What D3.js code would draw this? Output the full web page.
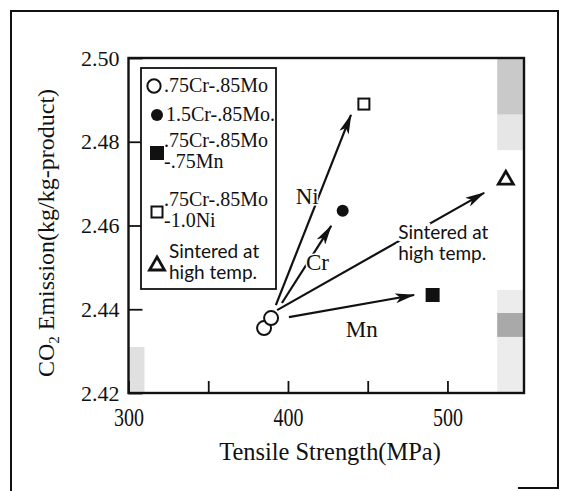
<!DOCTYPE html>
<html><head><meta charset="utf-8">
<script src="https://cdn.jsdelivr.net/npm/d3@7"></script>
<style>body{margin:0;background:#fff}svg{display:block}</style>
</head><body>
<script>
// ---- data ----
const xTicks = [300, 350, 400, 450, 500];
const xTickLabels = ["300", "", "400", "", "500"];
const yTicks = [2.42, 2.44, 2.46, 2.48, 2.50];
const yTickLabels = ["2.42", "2.44", "2.46", "2.48", "2.50"];

const seriesNames = [".75Cr-.85Mo", "1.5Cr-.85Mo.", ".75Cr-.85Mo|-.75Mn", ".75Cr-.85Mo|-1.0Ni", "Sintered at|high temp."];
const seriesShapes = ["openCircle", "filledCircle", "filledSquare", "openSquare", "triangle"];
// points: series index, tensile strength (MPa), CO2 emission (kg/kg-product)
const pointSeries = [0, 0, 1, 2, 3, 4];
const pointX = [385.0, 389.4, 434.3, 490.7, 447.6, 536.6];
const pointY = [2.4355, 2.4379, 2.4635, 2.4434, 2.4890, 2.4713];

// arrows from the base alloy to each modification
const arrowNames = ["Ni", "Cr", "Sintered", "Mn"];
const arrowX0 = [392.4, 396.2, 393.2, 400.6];
const arrowY0 = [2.4410, 2.4415, 2.4398, 2.4381];
const arrowX1 = [439.5, 427.1, 523.0, 479.1];
const arrowY1 = [2.4864, 2.4599, 2.4678, 2.4434];

// annotation labels
const noteText = ["Ni", "Cr", "Mn", "Sintered at", "high temp."];
const noteX = [404.8, 411.3, 436.2, 469.1, 469.1];
const noteY = [2.4652, 2.4494, 2.4334, 2.4568, 2.4518];

const xTitle = "Tensile Strength(MPa)";

// ---- layout ----
const W = 571, H = 491;
const svg = d3.select("body").append("svg").attr("width", W).attr("height", H);
const serif = "'Liberation Serif','Times New Roman',serif";
const sans = "Lato,'Open Sans',sans-serif";

const x = d3.scaleLinear().domain([300, 548]).range([128.5, 524]);
const y = d3.scaleLinear().domain([2.42, 2.50]).range([393, 58]);

// squeeze a text horizontally (the scanned figure uses a narrow face)
function squeeze(sel, ratio) {
  sel.each(function () {
    const len = this.getComputedTextLength();
    if (len > 0) d3.select(this).attr("textLength", len * ratio).attr("lengthAdjust", "spacingAndGlyphs");
  });
}

// outer frame (partially visible)
svg.append("path").attr("d", "M11,491 L11,11 L558,11 L558,488 L518,488")
  .attr("stroke", "#111").attr("stroke-width", 2).attr("fill", "none");

// halftone scan shading
const shade = svg.append("g");
const sh = [
  [531.2, 548, 2.4446, 2.42, "#ececec"],
  [531.2, 548, 2.4865, 2.478, "#e6e6e6"],
  [531.2, 548, 2.50, 2.4865, "#c9c9c9"],
  [531.2, 548, 2.4391, 2.4334, "#a9a9a9"],
  [300, 310, 2.431, 2.42, "#e0e0e0"]
];
sh.forEach(r => shade.append("rect").attr("x", x(r[0])).attr("y", y(r[2]))
  .attr("width", x(r[1]) - x(r[0])).attr("height", y(r[3]) - y(r[2])).attr("fill", r[4]));

// axes with inward ticks
const xAxis = d3.axisBottom(x).tickValues(xTicks).tickSize(-12).tickPadding(15)
  .tickFormat((d, i) => xTickLabels[i]);
const gx = svg.append("g").attr("transform", `translate(0,${y(2.42)})`).call(xAxis);
const yAxis = d3.axisLeft(y).tickValues(yTicks).tickSize(-14).tickPadding(9)
  .tickFormat((d, i) => yTickLabels[i]);
const gy = svg.append("g").attr("transform", `translate(${x(300)},0)`).call(yAxis);
[gx, gy].forEach(g => {
  g.attr("font-family", serif).attr("font-size", null);
  g.select(".domain").remove();
  g.selectAll("line").attr("stroke", "#111").attr("stroke-width", 1.8);
  g.selectAll("text").attr("fill", "#111").attr("font-family", serif).style("font-family", serif);
});
gy.selectAll("text").style("font-size", "22px");
gx.selectAll("text").style("font-size", "25px").call(squeeze, 0.8);

// plot frame
svg.append("rect").attr("x", x(300)).attr("y", y(2.50))
  .attr("width", x(548) - x(300)).attr("height", y(2.42) - y(2.50))
  .attr("fill", "none").attr("stroke", "#111").attr("stroke-width", 2.4);

// axis titles
svg.append("text").attr("x", 330).attr("y", 460).attr("text-anchor", "middle")
  .style("font-family", serif).style("font-size", "26px").attr("fill", "#111").text(xTitle)
  .call(squeeze, 0.94);
const yt = svg.append("text").attr("transform", "translate(54,233) rotate(-90)")
  .attr("text-anchor", "middle").style("font-family", serif).style("font-size", "24px").attr("fill", "#111");
yt.append("tspan").text("CO");
yt.append("tspan").attr("dy", 5).style("font-size", "15px").text("2");
yt.append("tspan").attr("dy", -5).text(" Emission(kg/kg-product)");

// arrow marker
svg.append("defs").append("marker").attr("id", "ah").attr("viewBox", "0 0 20 10").attr("refX", 19).attr("refY", 5)
  .attr("markerWidth", 20).attr("markerHeight", 10).attr("markerUnits", "userSpaceOnUse")
  .attr("orient", "auto")
  .append("path").attr("d", "M0,0 L20,5 L0,10 L5,5 Z").attr("fill", "#111");

// arrows
svg.append("g").selectAll("line").data(arrowNames).join("line")
  .attr("x1", (d, i) => x(arrowX0[i])).attr("y1", (d, i) => y(arrowY0[i]))
  .attr("x2", (d, i) => x(arrowX1[i])).attr("y2", (d, i) => y(arrowY1[i]))
  .attr("stroke", "#111").attr("stroke-width", 2.2).attr("marker-end", "url(#ah)");

// annotations (white halo hides the arrow under the text)
svg.append("g").selectAll("text").data(noteText).join("text")
  .attr("x", (d, i) => x(noteX[i])).attr("y", (d, i) => y(noteY[i]))
  .style("font-family", (d, i) => i >= 3 ? sans : serif)
  .style("font-size", (d, i) => i >= 3 ? "19px" : "23px")
  .attr("fill", "#111").attr("stroke", "#fff").attr("stroke-width", (d, i) => i >= 3 ? 6 : 3)
  .attr("paint-order", "stroke").text(d => d);

// marker drawing
function drawShape(g, shape, cx, cy, s) {
  if (shape === "openCircle") g.append("circle").attr("cx", cx).attr("cy", cy).attr("r", 7 * s).attr("fill", "#fff").attr("stroke", "#111").attr("stroke-width", 2);
  if (shape === "filledCircle") g.append("circle").attr("cx", cx).attr("cy", cy).attr("r", 6 * s).attr("fill", "#111");
  if (shape === "filledSquare") g.append("rect").attr("x", cx - 7 * s).attr("y", cy - 7 * s).attr("width", 14 * s).attr("height", 14 * s).attr("fill", "#111");
  if (shape === "openSquare") g.append("rect").attr("x", cx - 5.5 * s).attr("y", cy - 5.5 * s).attr("width", 11 * s).attr("height", 11 * s).attr("fill", "#fff").attr("stroke", "#111").attr("stroke-width", 2);
  if (shape === "triangle") g.append("path").attr("d", `M${cx},${cy - 7 * s} L${cx + 7.5 * s},${cy + 6 * s} L${cx - 7.5 * s},${cy + 6 * s} Z`).attr("fill", "#fff").attr("stroke", "#111").attr("stroke-width", 2.8).attr("stroke-linejoin", "miter");
}
const pts = svg.append("g");
pointSeries.forEach((si, i) => drawShape(pts, seriesShapes[si], x(pointX[i]), y(pointY[i]), 1));

// legend
const lg = svg.append("g");
lg.append("rect").attr("x", 141).attr("y", 68).attr("width", 135).attr("height", 221)
  .attr("fill", "#fff").attr("stroke", "#111").attr("stroke-width", 1.8);
const legRowY = [92, 121, 147, 206, 258];
const legTextX = [164, 166, 164, 164, 169];
seriesNames.forEach((nm, i) => {
  const lines = nm.split("|");
  const cy = lines.length > 1 ? legRowY[i] + 6 : legRowY[i] - 6;
  drawShape(lg, seriesShapes[i], i === 0 ? 154 : 157, cy, i === 0 ? 0.95 : 1);
  lines.forEach((ln, j) => {
    lg.append("text").attr("x", legTextX[i]).attr("y", legRowY[i] + j * 21)
      .style("font-family", i === 4 ? sans : serif).style("font-size", i === 4 ? "19px" : "20px")
      .attr("fill", "#111").text(ln);
  });
});
</script>
</body></html>
